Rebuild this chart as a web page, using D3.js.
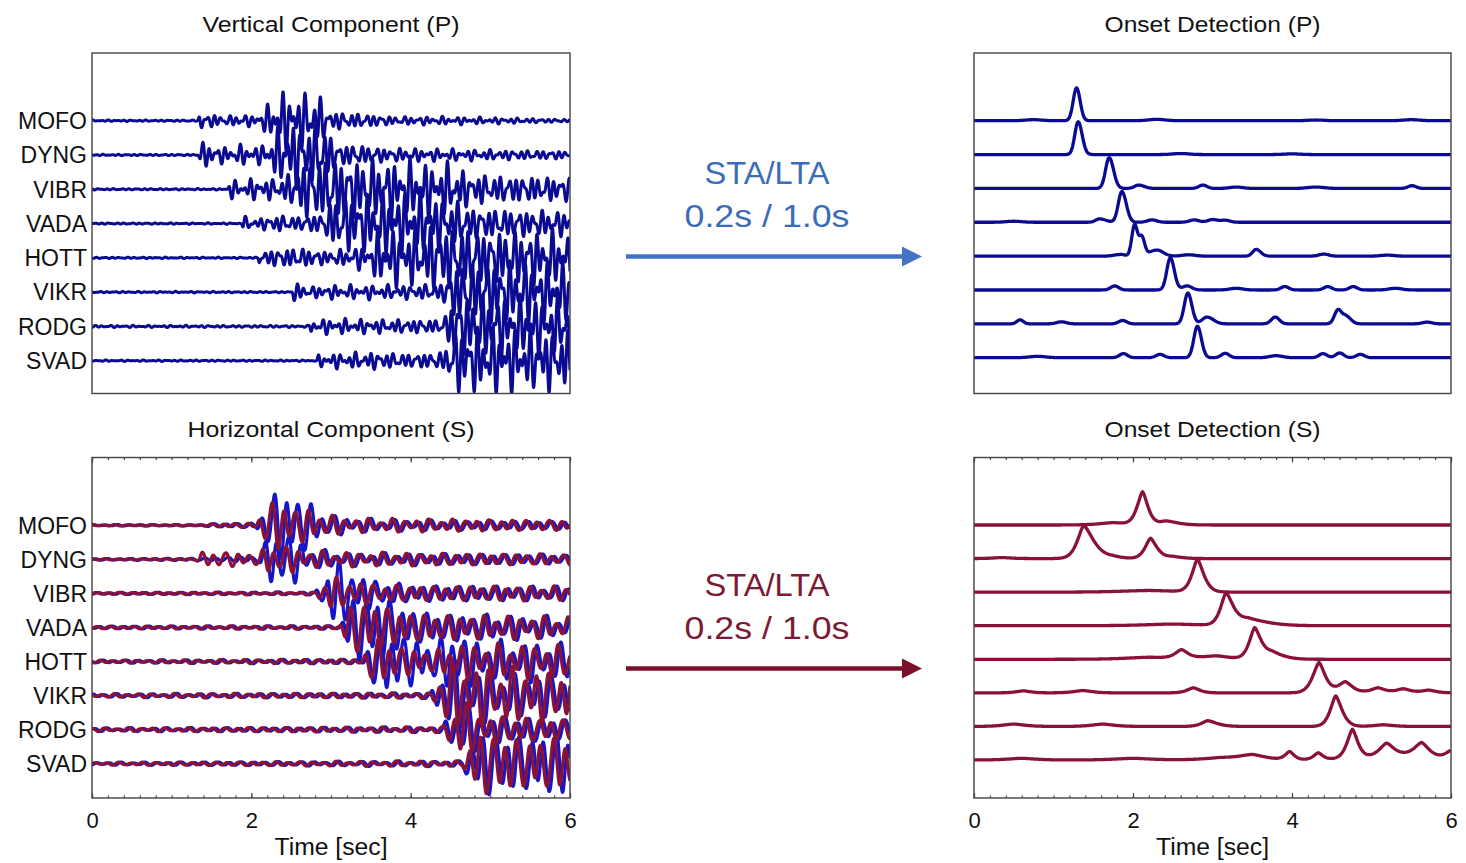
<!DOCTYPE html>
<html>
<head>
<meta charset="utf-8">
<script src="https://cdn.jsdelivr.net/npm/d3@7"></script>
<style>
body { margin: 0; background: #fff; }
text { font-family: "Liberation Sans", Arial, sans-serif; }
</style>
</head>
<body>
<svg id="chart"></svg>
<script>
const width = 1466;
const height = 863;

const stations = ["MOFO", "DYNG", "VIBR", "VADA", "HOTT", "VIKR", "RODG", "SVAD"];
const timeTicks = [0, 2, 4, 6];
const panelTitles = ["Vertical Component (P)", "Onset Detection (P)", "Horizontal Component (S)", "Onset Detection (S)"];
const methodLines = ["STA/LTA", "0.2s / 1.0s"];
const axisLabel = "Time [sec]";

// envelope of the vertical traces: [time, amplitude in trace spacings]
const pEnvelope = [
    [[0, 0.02], [1.33, 0.02], [1.36, 0.35], [1.42, 0.15], [1.55, 0.2], [1.7, 0.12], [1.85, 0.2], [2.0, 0.15], [2.15, 0.3], [2.25, 0.55], [2.35, 0.85], [2.6, 0.8], [2.85, 0.75], [2.95, 0.35], [3.1, 0.25], [3.4, 0.2], [3.8, 0.12], [4.3, 0.12], [4.8, 0.1], [5.3, 0.08], [6, 0.04]],
    [[0, 0.02], [1.33, 0.02], [1.36, 0.4], [1.5, 0.3], [1.7, 0.22], [1.9, 0.3], [2.1, 0.25], [2.25, 0.5], [2.4, 0.95], [2.7, 0.9], [2.95, 0.8], [3.05, 0.35], [3.3, 0.3], [3.7, 0.2], [4.2, 0.18], [5, 0.15], [6, 0.12]],
    [[0, 0.02], [1.7, 0.02], [1.73, 0.3], [1.85, 0.2], [2.0, 0.3], [2.3, 0.3], [2.5, 0.45], [2.65, 0.85], [3.0, 0.9], [3.5, 0.85], [4.0, 0.8], [4.5, 0.75], [4.7, 0.5], [5.0, 0.4], [6, 0.35]],
    [[0, 0.02], [1.88, 0.02], [1.9, 0.2], [2.1, 0.15], [2.3, 0.25], [2.6, 0.2], [2.9, 0.3], [3.05, 0.8], [3.5, 0.85], [4.0, 0.9], [4.5, 0.7], [4.8, 0.45], [5.3, 0.4], [6, 0.35]],
    [[0, 0.02], [2.08, 0.02], [2.1, 0.2], [2.3, 0.25], [2.6, 0.3], [2.9, 0.2], [3.2, 0.25], [3.5, 0.4], [3.6, 0.8], [4.0, 0.8], [4.35, 0.95], [4.6, 0.9], [5.0, 0.8], [6, 0.75]],
    [[0, 0.02], [2.5, 0.02], [2.53, 0.3], [2.7, 0.15], [3.0, 0.2], [3.5, 0.2], [4.0, 0.2], [4.4, 0.25], [4.55, 0.85], [5.0, 0.9], [5.5, 0.85], [6, 0.8]],
    [[0, 0.03], [2.72, 0.03], [2.75, 0.2], [3.0, 0.22], [3.5, 0.2], [4.0, 0.2], [4.4, 0.2], [4.55, 0.85], [5.0, 0.9], [5.5, 0.8], [6, 0.8]],
    [[0, 0.02], [2.82, 0.02], [2.85, 0.2], [3.2, 0.22], [3.5, 0.25], [4.0, 0.2], [4.4, 0.25], [4.55, 0.9], [4.9, 0.95], [5.5, 0.85], [6, 0.85]]
];

// envelopes of the two horizontal traces (blue / red)
const sEnvelopeBlue = [
    [[0, 0.02], [1.4, 0.02], [1.5, 0.05], [2.05, 0.07], [2.2, 0.6], [2.3, 1.0], [2.6, 0.9], [2.8, 0.5], [3.0, 0.3], [3.3, 0.2], [4, 0.15], [6, 0.12]],
    [[0, 0.02], [1.35, 0.04], [2.1, 0.1], [2.2, 0.6], [2.3, 1.0], [2.5, 0.7], [2.75, 0.3], [3.2, 0.18], [6, 0.15]],
    [[0, 0.03], [2.8, 0.04], [2.9, 0.5], [2.97, 1.0], [3.2, 0.8], [3.5, 0.4], [4, 0.25], [6, 0.2]],
    [[0, 0.04], [3.1, 0.05], [3.2, 0.6], [3.35, 1.0], [3.7, 0.9], [4.0, 0.5], [4.4, 0.4], [6, 0.3]],
    [[0, 0.04], [3.4, 0.07], [3.5, 0.6], [3.65, 1.0], [4.0, 0.7], [4.3, 0.5], [4.5, 0.9], [4.8, 0.6], [6, 0.5]],
    [[0, 0.05], [4.25, 0.08], [4.35, 0.6], [4.45, 1.0], [4.8, 0.8], [5.2, 0.6], [6, 0.6]],
    [[0, 0.05], [4.4, 0.08], [4.5, 0.5], [4.6, 0.8], [5, 0.4], [6, 0.3]],
    [[0, 0.04], [4.65, 0.08], [4.75, 0.7], [4.9, 0.9], [5.5, 0.8], [5.9, 1.0], [6, 0.9]]
];
const sEnvelopeRed = [
    [[0, 0.02], [1.4, 0.02], [1.5, 0.05], [2.05, 0.07], [2.15, 0.45], [2.3, 0.75], [2.6, 0.5], [2.85, 0.35], [3.2, 0.2], [6, 0.15]],
    [[0, 0.02], [1.3, 0.02], [1.38, 0.22], [1.9, 0.2], [2.1, 0.15], [2.2, 0.45], [2.4, 0.4], [2.7, 0.25], [3.2, 0.2], [6, 0.15]],
    [[0, 0.03], [2.8, 0.04], [2.85, 0.3], [3.0, 0.45], [3.3, 0.35], [3.6, 0.25], [4, 0.22], [6, 0.2]],
    [[0, 0.04], [3.1, 0.05], [3.2, 0.5], [3.35, 0.8], [3.7, 0.6], [4.0, 0.4], [4.6, 0.35], [6, 0.3]],
    [[0, 0.04], [3.4, 0.07], [3.45, 0.4], [3.6, 0.7], [3.9, 0.4], [4.3, 0.3], [4.6, 0.5], [6, 0.45]],
    [[0, 0.05], [4.25, 0.08], [4.35, 0.6], [4.5, 0.9], [5, 0.8], [6, 0.7]],
    [[0, 0.05], [4.4, 0.08], [4.5, 0.6], [4.6, 0.9], [4.9, 0.4], [6, 0.3]],
    [[0, 0.04], [4.65, 0.08], [4.75, 0.7], [4.9, 0.9], [5.5, 0.7], [6, 0.8]]
];

// STA/LTA peaks: [time, height, rise width, decay width]
const pOnsetPeaks = [
    [[0.75, 0.03, 0.1, 0.1], [1.29, 0.97, 0.042, 0.045], [2.3, 0.04, 0.1, 0.1], [4.3, 0.02, 0.1, 0.1], [5.5, 0.03, 0.1, 0.1]],
    [[1.31, 0.97, 0.042, 0.05], [2.6, 0.03, 0.1, 0.1], [4.0, 0.02, 0.1, 0.1]],
    [[1.70, 0.91, 0.045, 0.055], [2.07, 0.1, 0.05, 0.07], [2.88, 0.1, 0.05, 0.05], [3.3, 0.04, 0.08, 0.08], [4.3, 0.04, 0.1, 0.1], [5.51, 0.08, 0.05, 0.05]],
    [[0.5, 0.03, 0.1, 0.1], [1.58, 0.1, 0.05, 0.08], [1.86, 0.91, 0.045, 0.055], [2.24, 0.07, 0.06, 0.06], [2.77, 0.07, 0.06, 0.06], [3.0, 0.08, 0.06, 0.06], [3.16, 0.06, 0.06, 0.06]],
    [[1.85, 0.05, 0.08, 0.05], [2.02, 0.92, 0.035, 0.035], [2.11, 0.55, 0.035, 0.035], [2.3, 0.18, 0.1, 0.08], [2.7, 0.04, 0.08, 0.08], [3.55, 0.2, 0.045, 0.055], [4.4, 0.06, 0.06, 0.06], [5.2, 0.03, 0.08, 0.08]],
    [[1.77, 0.12, 0.05, 0.05], [2.47, 0.95, 0.045, 0.05], [2.68, 0.12, 0.06, 0.06], [3.3, 0.05, 0.08, 0.08], [3.91, 0.1, 0.05, 0.05], [4.45, 0.1, 0.05, 0.05], [4.77, 0.1, 0.05, 0.05], [5.3, 0.05, 0.08, 0.08]],
    [[0.58, 0.12, 0.04, 0.04], [1.1, 0.06, 0.06, 0.06], [1.87, 0.1, 0.05, 0.05], [2.69, 0.91, 0.045, 0.05], [2.93, 0.2, 0.06, 0.08], [3.79, 0.2, 0.05, 0.05], [4.58, 0.42, 0.045, 0.045], [4.68, 0.22, 0.04, 0.06], [5.7, 0.05, 0.06, 0.06]],
    [[0.8, 0.04, 0.1, 0.1], [1.88, 0.12, 0.05, 0.05], [2.34, 0.1, 0.05, 0.05], [2.81, 0.93, 0.045, 0.05], [3.16, 0.13, 0.05, 0.05], [3.8, 0.06, 0.08, 0.08], [4.39, 0.12, 0.05, 0.05], [4.6, 0.14, 0.05, 0.05], [4.86, 0.1, 0.05, 0.05]]
];
const sOnsetPeaks = [
    [[1.75, 0.07, 0.15, 0.15], [2.12, 0.98, 0.06, 0.06], [2.42, 0.12, 0.08, 0.12]],
    [[0.35, 0.03, 0.1, 0.1], [1.38, 0.98, 0.07, 0.11], [1.75, 0.05, 0.1, 0.1], [2.22, 0.6, 0.06, 0.07], [2.5, 0.06, 0.1, 0.1]],
    [[2.2, 0.05, 0.3, 0.3], [2.81, 0.97, 0.06, 0.07]],
    [[2.5, 0.05, 0.3, 0.3], [3.17, 0.94, 0.06, 0.08], [3.45, 0.2, 0.12, 0.2]],
    [[2.2, 0.06, 0.25, 0.25], [2.61, 0.25, 0.07, 0.07], [3.05, 0.1, 0.2, 0.15], [3.53, 0.9, 0.06, 0.07], [3.75, 0.2, 0.1, 0.12]],
    [[0.62, 0.06, 0.08, 0.08], [1.37, 0.07, 0.1, 0.1], [2.76, 0.15, 0.07, 0.07], [4.34, 0.9, 0.07, 0.07], [4.67, 0.33, 0.08, 0.08], [5.08, 0.15, 0.08, 0.08], [5.4, 0.12, 0.08, 0.08], [5.72, 0.08, 0.08, 0.08]],
    [[0.5, 0.07, 0.12, 0.12], [1.62, 0.07, 0.12, 0.12], [2.94, 0.17, 0.07, 0.1], [4.55, 0.91, 0.06, 0.07], [5.15, 0.05, 0.1, 0.1]],
    [[0.6, 0.05, 0.15, 0.15], [2.0, 0.05, 0.2, 0.2], [3.1, 0.06, 0.2, 0.2], [3.5, 0.15, 0.15, 0.15], [3.97, 0.24, 0.05, 0.05], [4.33, 0.2, 0.05, 0.05], [4.76, 0.86, 0.06, 0.06], [5.19, 0.38, 0.08, 0.08], [5.4, 0.15, 0.4, 0.4], [5.63, 0.4, 0.08, 0.08], [6.0, 0.22, 0.06, 0.06]]
];

// panel boxes and first / last trace baselines
const panels = {
    vp: { x0: 92, x1: 570, y0: 53, y1: 393.5, b0: 120.7, b1: 360.7 },
    op: { x0: 974, x1: 1451, y0: 53, y1: 393.5, b0: 120.7, b1: 357.7 },
    hs: { x0: 92, x1: 570, y0: 457.5, y1: 798, b0: 525.3, b1: 763.7 },
    os: { x0: 974, x1: 1451, y0: 457.5, y1: 798, b0: 525, b1: 760 }
};

const pColor = "#0a0a92";
const blueColor = "#1616c8";
const redColor = "#8a1238";
const textColor = "#111";

const svg = d3.select("#chart")
    .attr("width", width)
    .attr("height", height);

svg.append("rect")
    .attr("width", width)
    .attr("height", height)
    .attr("fill", "#fff");

const defs = svg.append("defs");

function xScaleFor(p) {
    return d3.scaleLinear().domain([0, 6]).range([p.x0, p.x1]);
}
function yScaleFor(p) {
    return d3.scaleLinear().domain([0, stations.length - 1]).range([p.b0, p.b1]);
}

// oscillation inside an envelope, mix weights per component
function carrier(t, f, seed, mix) {
    const s = mix[0] * Math.sin(2 * Math.PI * f * t + seed * 1.7)
        + mix[1] * Math.sin(2 * Math.PI * f * 1.43 * t + seed * 2.9)
        + mix[2] * Math.sin(2 * Math.PI * f * 0.61 * t + seed * 0.8);
    return s / (mix[0] + mix[1] + mix[2]) * 1.15;
}

function waveform(env, f, seed, mix) {
    const envScale = d3.scaleLinear()
        .domain(env.map(d => d[0]))
        .range(env.map(d => d[1]))
        .clamp(true);
    return d3.range(0, 6.0001, 0.003).map(t => [t, envScale(t) * carrier(t, f, seed, mix)]);
}

function onsetCurve(peaks, shape) {
    return d3.range(0, 6.0001, 0.01).map(t => {
        let v = 0;
        peaks.forEach(([t0, h, wl, wr]) => {
            const w = t < t0 ? wl : wr;
            v += h * Math.exp(-0.5 * Math.pow(Math.abs(t - t0) / w, shape));
        });
        return [t, v];
    });
}

function addClip(key, p) {
    defs.append("clipPath")
        .attr("id", "clip-" + key)
        .append("rect")
        .attr("x", p.x0)
        .attr("y", p.y0)
        .attr("width", p.x1 - p.x0)
        .attr("height", p.y1 - p.y0);
}

function drawFrame(p) {
    svg.append("rect")
        .attr("x", p.x0)
        .attr("y", p.y0)
        .attr("width", p.x1 - p.x0)
        .attr("height", p.y1 - p.y0)
        .attr("fill", "none")
        .attr("stroke", "#444")
        .attr("stroke-width", 1.4);
}

function drawTitle(p, text, len) {
    svg.append("text")
        .attr("x", (p.x0 + p.x1) / 2)
        .attr("y", p.y0 - 21)
        .attr("text-anchor", "middle")
        .attr("font-size", 22)
        .attr("fill", textColor)
        .attr("textLength", len)
        .attr("lengthAdjust", "spacingAndGlyphs")
        .text(text);
}

function drawStationLabels(p) {
    const y = yScaleFor(p);
    svg.append("g")
        .selectAll("text")
        .data(stations)
        .join("text")
        .attr("x", p.x0 - 5)
        .attr("y", (d, i) => y(i))
        .attr("dy", "0.36em")
        .attr("text-anchor", "end")
        .attr("font-size", 23)
        .attr("fill", textColor)
        .text(d => d);
}

function drawTraces(key, p, series, color, lw) {
    const x = xScaleFor(p);
    const y = yScaleFor(p);
    const g = svg.append("g").attr("clip-path", "url(#clip-" + key + ")");
    series.forEach((pts, i) => {
        const line = d3.line()
            .x(d => x(d[0]))
            .y(d => y(i - d[1]));
        g.append("path")
            .attr("d", line(pts))
            .attr("fill", "none")
            .attr("stroke", color)
            .attr("stroke-width", lw)
            .attr("stroke-linejoin", "round");
    });
}

function drawTimeAxis(p) {
    const x = xScaleFor(p);
    const minor = d3.range(0, 6.0001, 0.2).map(d => +d.toFixed(1));
    const bottom = svg.append("g").attr("transform", `translate(0,${p.y1})`);
    bottom.call(d3.axisBottom(x).tickValues(minor).tickSize(-2.5).tickFormat(""));
    bottom.append("g").call(d3.axisBottom(x).tickValues(timeTicks).tickSize(-5).tickPadding(14).tickFormat(d3.format("d")));
    const top = svg.append("g").attr("transform", `translate(0,${p.y0})`);
    top.call(d3.axisTop(x).tickValues(minor).tickSize(-2.5).tickFormat(""));
    top.append("g").call(d3.axisTop(x).tickValues(timeTicks).tickSize(-5).tickFormat(""));
    svg.selectAll(".domain").remove();
    svg.selectAll(".tick line").attr("stroke", "#444").attr("stroke-width", 1.2);
    bottom.selectAll(".tick text")
        .attr("font-size", 22)
        .attr("font-family", "Liberation Sans, Arial, sans-serif")
        .attr("fill", textColor);
    svg.append("text")
        .attr("x", (p.x0 + p.x1) / 2)
        .attr("y", p.y1 + 57)
        .attr("text-anchor", "middle")
        .attr("font-size", 23)
        .attr("fill", textColor)
        .attr("textLength", 113)
        .attr("lengthAdjust", "spacingAndGlyphs")
        .text(axisLabel);
}

function drawMethod(yText, yArrow, labelColor, arrowColor) {
    const cx = 767;
    svg.append("text")
        .attr("x", cx)
        .attr("y", yText)
        .attr("text-anchor", "middle")
        .attr("font-family", "Lato, 'Open Sans', sans-serif")
        .attr("font-size", 31)
        .attr("fill", labelColor)
        .attr("textLength", 125)
        .attr("lengthAdjust", "spacingAndGlyphs")
        .text(methodLines[0]);
    svg.append("text")
        .attr("x", cx)
        .attr("y", yText + 43)
        .attr("text-anchor", "middle")
        .attr("font-family", "Lato, 'Open Sans', sans-serif")
        .attr("font-size", 31)
        .attr("fill", labelColor)
        .attr("textLength", 165)
        .attr("lengthAdjust", "spacingAndGlyphs")
        .text(methodLines[1]);
    svg.append("line")
        .attr("x1", 626)
        .attr("x2", 906)
        .attr("y1", yArrow)
        .attr("y2", yArrow)
        .attr("stroke", arrowColor)
        .attr("stroke-width", 4.5);
    svg.append("path")
        .attr("d", `M902,${yArrow - 10}L922,${yArrow}L902,${yArrow + 10}Z`)
        .attr("fill", arrowColor);
}

Object.entries(panels).forEach(([k, p]) => addClip(k, p));

drawTitle(panels.vp, panelTitles[0], 257);
drawTitle(panels.op, panelTitles[1], 216);
drawTitle(panels.hs, panelTitles[2], 287);
drawTitle(panels.os, panelTitles[3], 216);

drawStationLabels(panels.vp);
drawStationLabels(panels.hs);

drawTraces("vp", panels.vp, pEnvelope.map((env, i) => waveform(env, 10.5, i * 2.3 + 0.4, [0.55, 0.45, 0.25])), pColor, 3.0);
drawTraces("op", panels.op, pOnsetPeaks.map(pk => onsetCurve(pk, 2)), pColor, 3.3);
drawTraces("hs", panels.hs, sEnvelopeBlue.map((env, i) => waveform(env, 6.6, i * 3 + 0.5, [0.8, 0.12, 0.3])), blueColor, 3.2);
drawTraces("hs", panels.hs, sEnvelopeRed.map((env, i) => waveform(env, 6.6, i * 3 + 1.3, [0.8, 0.12, 0.3])), redColor, 3.2);
drawTraces("os", panels.os, sOnsetPeaks.map(pk => onsetCurve(pk, 1.5)), redColor, 3.3);

Object.values(panels).forEach(drawFrame);

drawTimeAxis(panels.hs);
drawTimeAxis(panels.os);

drawMethod(183.5, 256.5, "#3a6cb8", "#4472c4");
drawMethod(596, 668.5, "#7b1a32", "#7b1128");
</script>
</body>
</html>
